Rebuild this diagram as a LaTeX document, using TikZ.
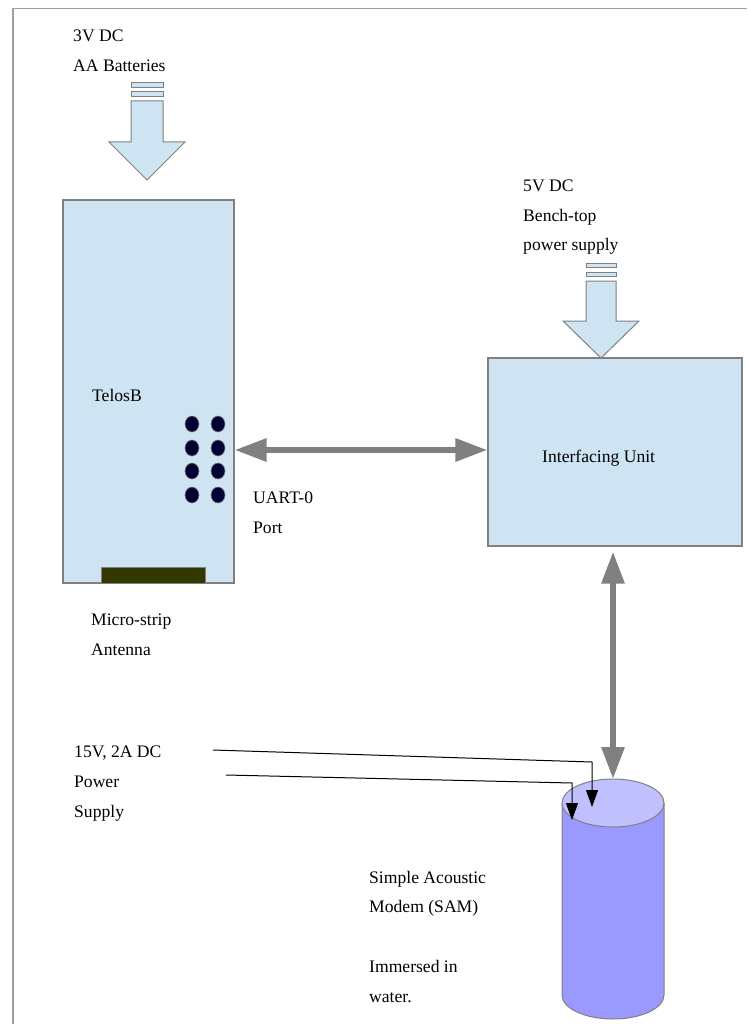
\documentclass[tikz,border=0pt]{standalone}
\usepackage{fontspec}
\setmainfont{Liberation Serif}
\usetikzlibrary{arrows.meta}
\definecolor{boxfill}{RGB}{207,228,243}
\definecolor{edgegray}{RGB}{128,128,128}
\definecolor{framegray}{RGB}{160,160,160}
\definecolor{dotnavy}{RGB}{0,0,51}
\definecolor{antolive}{RGB}{51,56,0}
\definecolor{samside}{RGB}{153,153,255}
\definecolor{samtop}{RGB}{192,192,255}
\definecolor{linkgray}{RGB}{128,128,128}
\tikzset{
  lbl/.style={anchor=base west, inner sep=0pt, font=\fontsize{17.6}{20}\selectfont},
  blockbox/.style={draw=edgegray, fill=boxfill, line width=1.2pt, inner sep=0pt},
  blockarrow/.style={draw=edgegray, fill=boxfill, line width=1pt},
  bigarrow/.style={draw=linkgray, line width=6pt, {Triangle[length=32pt,width=22pt]}-{Triangle[length=32pt,width=22pt]}},
  wirearrow/.style={draw=black, line width=1pt, -{Triangle[length=17pt,width=12pt]}},
  pin/.style={draw=edgegray, fill=dotnavy, line width=0.6pt}
}
\begin{document}
\begin{tikzpicture}[x=1pt,y=-1pt]
\useasboundingbox (0,0) rectangle (747,1024);
% frame
\draw[framegray, line width=1.5pt] (13,1024) -- (13,8.5) -- (747,8.5);

% battery arrow
\draw[blockarrow] (131,83) rectangle (163,88);
\draw[blockarrow] (131,92) rectangle (163,97);
\draw[blockarrow] (131,101) -- (163,101) -- (163,142) -- (185,142) -- (147,180) -- (109,142) -- (131,142) -- cycle;
\node[lbl] (t3v) at (73,42) {3V DC};
\node[lbl] (taa) at (73,72) {AA Batteries};

% TelosB
\node[blockbox, minimum width=171pt, minimum height=383pt] (telos) at (148.5,391.5) {};
\node[lbl] (ttelos) at (92,401) {TelosB};
\draw[draw=edgegray, fill=antolive, line width=1pt] (101,567) rectangle (205,583);
\foreach \r in {424,448,471,495} {
  \draw[pin] (192,\r) ellipse [x radius=7pt, y radius=8pt];
  \draw[pin] (218,\r) ellipse [x radius=7pt, y radius=8pt];
}
\node[lbl] (tuart) at (253,503) {UART-0};
\node[lbl] (tport) at (253,533) {Port};
\node[lbl] (tmicro) at (91,625) {Micro-strip};
\node[lbl] (tant) at (91,655) {Antenna};

% 5V arrow
\draw[blockarrow] (586,263) rectangle (616,267);
\draw[blockarrow] (586,272) rectangle (616,276);
\draw[blockarrow] (586,281) -- (616,281) -- (616,321) -- (639,321) -- (601,358) -- (563,321) -- (586,321) -- cycle;
\node[lbl] (t5v) at (523,192) {5V DC};
\node[lbl] (tbench) at (523,222) {Bench-top};
\node[lbl] (tpower) at (523,251) {power supply};

% Interfacing unit
\node[blockbox, minimum width=254pt, minimum height=188pt] (iface) at (615,452) {};
\node[lbl] (tiface) at (542,462) {Interfacing Unit};

% SAM cylinder
\fill[samside] (562,803) -- (562,995) arc[start angle=180, end angle=360, x radius=51pt, y radius=24pt] -- (664,803) -- cycle;
\draw[edgegray, line width=1pt] (562,803) -- (562,995) arc[start angle=180, end angle=360, x radius=51pt, y radius=24pt] -- (664,803);
\draw[edgegray, fill=samtop, line width=1pt] (613,803) ellipse [x radius=51pt, y radius=24pt];
\coordinate (samtopc) at (613,779);
\coordinate (samin1) at (592,807);
\coordinate (samin2) at (572,820);
\node[lbl] (tsimple) at (369,883) {Simple Acoustic};
\node[lbl] (tmodem) at (369,912) {Modem (SAM)};
\node[lbl] (timm) at (369,972) {Immersed in};
\node[lbl] (twater) at (369,1002) {water.};

% links
\draw[bigarrow] (telos.east |- 0,450) -- (iface.west |- 0,450);
\draw[bigarrow] (iface.south -| 613,0) ++(0,5) -- (samtopc);

% power supply wires
\node[lbl] (t15) at (74,757) {15V, 2A DC};
\node[lbl] (tpw) at (74,787) {Power};
\node[lbl] (tsup) at (74,817) {Supply};
\coordinate (ps1) at (213,750);
\coordinate (ps2) at (226,775);
\draw[wirearrow] (ps1) -- (592,762) -- (samin1);
\draw[wirearrow] (ps2) -- (572,783) -- (samin2);
\end{tikzpicture}
\end{document}
